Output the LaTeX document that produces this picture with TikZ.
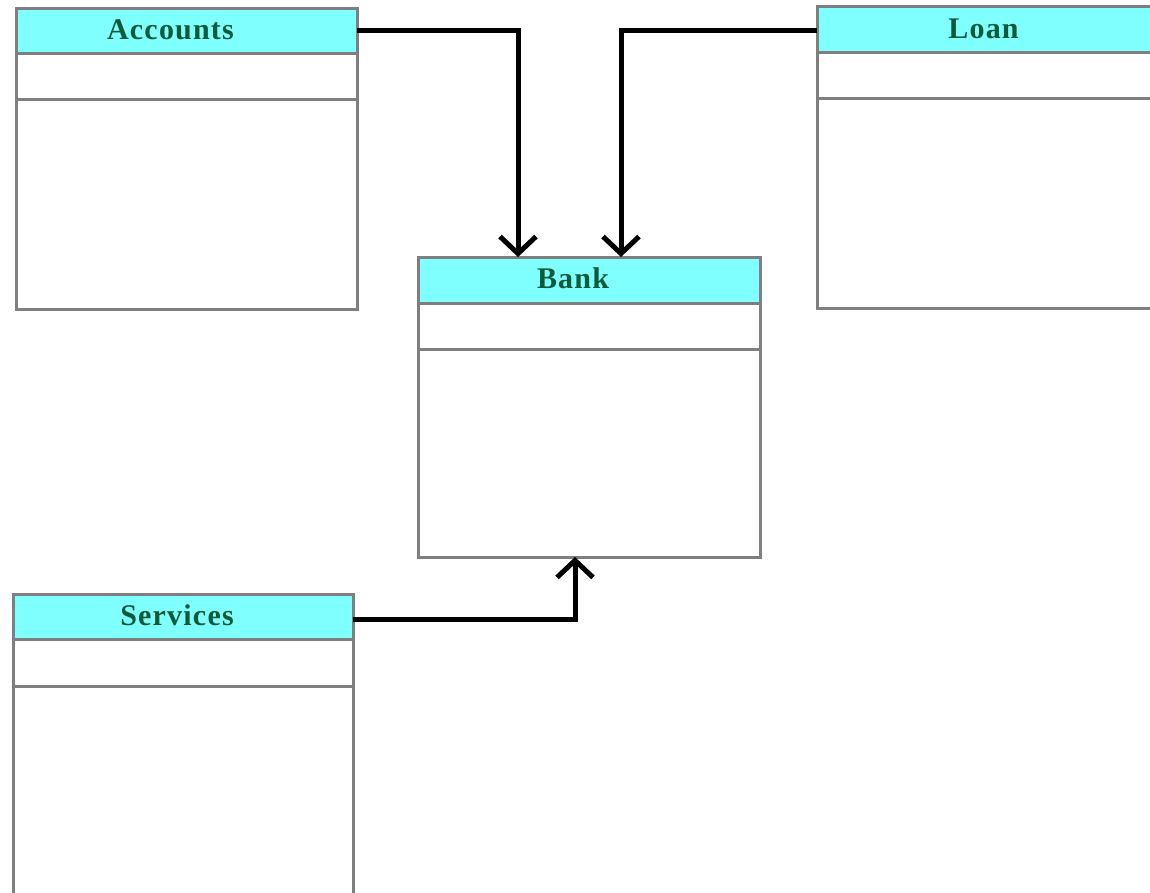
\documentclass[tikz,border=0pt]{standalone}
\usepackage{fontspec}
\setmainfont{Liberation Serif}
\usetikzlibrary{arrows.meta,calc}
\definecolor{hdr}{HTML}{80FFFF}
\definecolor{bordergray}{HTML}{7F7F7F}
\definecolor{txtgreen}{HTML}{0E5A3A}
\newcommand{\hdrtext}[2]{\raisebox{3pt}{\kern-#1pt\addfontfeature{LetterSpace=4}#2\kern#1pt}}
\tikzset{
  part/.style={draw=bordergray, line width=3pt, fill=white, inner sep=0pt, outer sep=0pt, anchor=north west},
  header/.style={part, fill=hdr, font=\bfseries\fontsize{30}{30}\selectfont, text=txtgreen},
  link/.style={draw=black, line width=5pt, -{Straight Barb[length=17pt,width=36pt,line width=5pt]}},
}
\begin{document}
\begin{tikzpicture}[x=1pt,y=-1pt]
\useasboundingbox (0,0) rectangle (1150,893);
\fill[white] (0,0) rectangle (1150,893);
\begin{scope}
\clip (0,0) rectangle (1150,893);
% Accounts
\node[header, minimum width=341pt, minimum height=45pt] (acc) at (16,9) {\hdrtext{16}{Accounts}};
\node[part, minimum width=341pt, minimum height=46pt] (accA) at (acc.south west) {};
\node[part, minimum width=341pt, minimum height=209pt] (accM) at (accA.south west) {};
% Loan
\node[header, minimum width=345pt, minimum height=46pt] (loan) at (817,7) {\hdrtext{6}{Loan}};
\node[part, minimum width=345pt, minimum height=46pt] (loanA) at (loan.south west) {};
\node[part, minimum width=345pt, minimum height=209pt] (loanM) at (loanA.south west) {};
% Bank
\node[header, minimum width=342pt, minimum height=46pt] (bank) at (418,257) {\hdrtext{16}{Bank}};
\node[part, minimum width=342pt, minimum height=46pt] (bankA) at (bank.south west) {};
\node[part, minimum width=342pt, minimum height=208pt] (bankM) at (bankA.south west) {};
% Services
\node[header, minimum width=340pt, minimum height=45pt] (serv) at (13,594) {\hdrtext{6}{Services}};
\node[part, minimum width=340pt, minimum height=47pt] (servA) at (serv.south west) {};
\node[part, minimum width=340pt, minimum height=220pt] (servM) at (servA.south west) {};
\end{scope}
% connectors
\coordinate (accIn) at ($(bank.north west)+(100,0)$);
\coordinate (loanIn) at ($(bank.north west)+(203,0)$);
\coordinate (servIn) at ($(bankM.south west)+(157,0)$);
\draw[link] ($(acc.east)+(0,-1)$) -| (accIn);
\draw[link] ($(loan.west)+(0,1)$) -| (loanIn);
\draw[link] ($(serv.east)+(0,3)$) -| (servIn);
\end{tikzpicture}
\end{document}
